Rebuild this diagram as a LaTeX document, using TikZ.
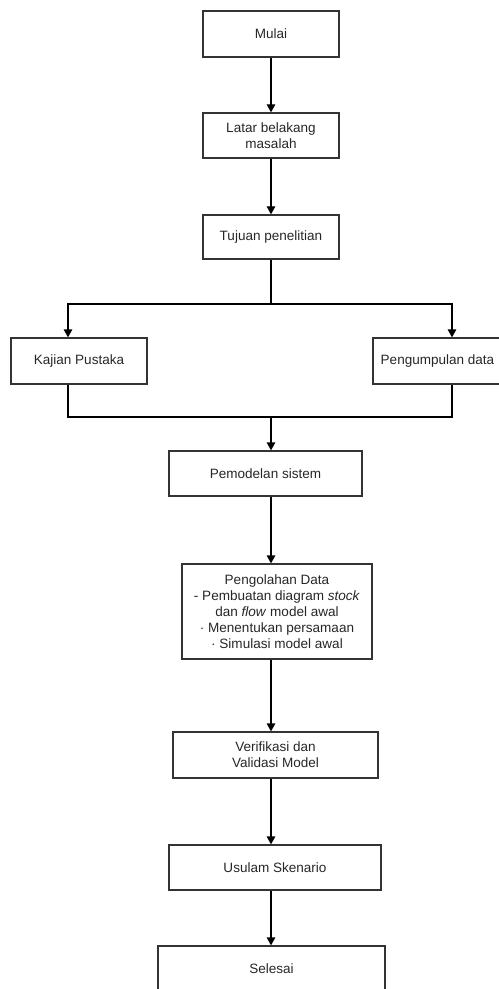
\documentclass[tikz,border=0pt]{standalone}
\usepackage{fontspec}
\setmainfont{Liberation Sans}
\usepackage{tikz}
\usetikzlibrary{arrows.meta}

\begin{document}
\begin{tikzpicture}[
    line width=0.7pt,
    box/.style={draw=black!80, inner sep=0pt, align=center, text=black!85,
                font=\fontsize{7.7}{9.2}\selectfont},
    >={Triangle[length=1.6mm,width=1.7mm]}
  ]
            \useasboundingbox (0,0) rectangle (9.96,-19.78);
            \node at (5.42,-0.68) [box, minimum width=2.72cm, minimum height=0.92cm] (mulai) {Mulai};
            \node at (5.42,-2.71) [box, minimum width=2.72cm, minimum height=0.90cm] (latar) {Latar belakang\\masalah};
            \node at (5.42,-4.74) [box, minimum width=2.72cm, minimum height=0.88cm] (tujuan) {Tujuan penelitian};
            \node at (1.58,-7.22) [box, minimum width=2.72cm, minimum height=0.92cm] (kajian) {Kajian Pustaka};
            \node at (8.75,-7.22) [box, minimum width=2.58cm, minimum height=0.92cm] (pengumpulan) {Pengumpulan data};
            \node at (5.31,-9.47) [box, minimum width=3.86cm, minimum height=0.90cm] (pemodelan) {Pemodelan sistem};
            \node at (5.54,-12.23) [box, minimum width=3.80cm, minimum height=1.90cm] (pengolahan) {Pengolahan Data\\- Pembuatan diagram \textit{stock}\\dan \textit{flow} model awal\\· Menentukan persamaan\\· Simulasi model awal};
            \node at (5.51,-15.10) [box, minimum width=4.10cm, minimum height=0.92cm] (verifikasi) {Verifikasi dan\\Validasi Model};
            \node at (5.50,-17.35) [box, minimum width=4.24cm, minimum height=0.90cm] (usulan) {Usulam Skenario};
            \node at (5.43,-19.38) [box, minimum width=4.54cm, minimum height=0.92cm] (selesai) {Selesai};
            \coordinate (spine) at (5.42,0);
            \coordinate (splitL) at (1.36,-6.08);
            \coordinate (splitR) at (9.04,-6.08);
            \coordinate (mergeL) at (1.36,-8.34);
            \coordinate (mergeR) at (9.04,-8.34);
            \draw[->] (mulai) -- (latar);
            \draw[->] (latar) -- (tujuan);
            \draw[->] (tujuan.south) -- (tujuan.south |- splitL) -- (splitL) -- (splitL |- kajian.north);
            \draw[->] (tujuan.south |- splitR) -- (splitR) -- (splitR |- pengumpulan.north);
            \draw (splitL |- kajian.south) -- (mergeL) -- (mergeR) -- (splitR |- pengumpulan.south);
            \draw[->] (spine |- mergeL) -- (spine |- pemodelan.north);
            \draw[->] (spine |- pemodelan.south) -- (spine |- pengolahan.north);
            \draw[->] (spine |- pengolahan.south) -- (spine |- verifikasi.north);
            \draw[->] (spine |- verifikasi.south) -- (spine |- usulan.north);
            \draw[->] (spine |- usulan.south) -- (spine |- selesai.north);
        \end{tikzpicture}
\end{document}
